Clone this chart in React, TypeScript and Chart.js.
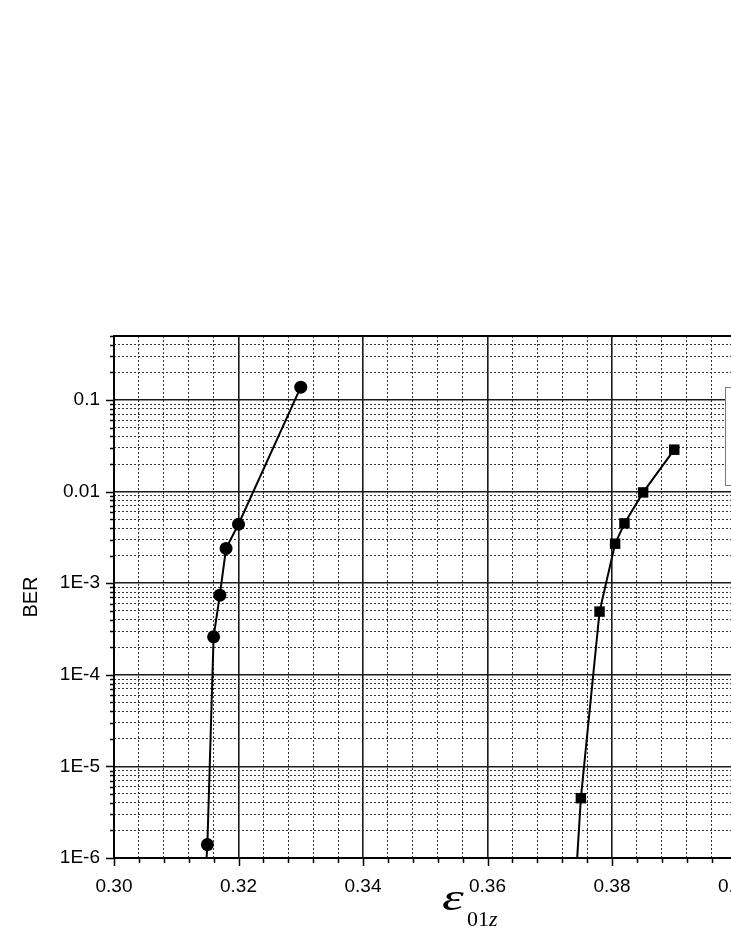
import React, { useEffect, useRef } from "react";
import { Chart, registerables } from "chart.js";

Chart.register(...registerables);

// ---- data ----
const circleX = [0.314, 0.315, 0.316, 0.317, 0.318, 0.32, 0.33];
const circleBER = [1e-7, 1.4e-6, 2.6e-4, 7.4e-4, 2.4e-3, 4.4e-3, 0.138];
const squareX = [0.3735, 0.375, 0.378, 0.3805, 0.382, 0.385, 0.39];
const squareBER = [1e-7, 4.5e-6, 4.9e-4, 2.7e-3, 4.5e-3, 9.8e-3, 0.0287];

// ---- axes ----
const xMin = 0.3;
const xMax = 0.42;
const xMinorStep = 0.004;
const xMajorStep = 0.02;
const yMin = 1e-6;
const yMax = 0.5;
const yDecades = [1e-6, 1e-5, 1e-4, 1e-3, 0.01, 0.1];
const yDecadeLabels = ["1E-6", "1E-5", "1E-4", "1E-3", "0.01", "0.1"];
const yMinorMultipliers = [2, 3, 4, 5, 6, 7, 8, 9];

const FONT = "'Liberation Sans', Arial, sans-serif";
const SERIF = "'Liberation Serif', 'Times New Roman', serif";

const isMajorX = (v: number) => {
  const r = v / xMajorStep;
  return Math.abs(r - Math.round(r)) < 1e-6;
};
const isMajorY = (v: number) => {
  const l = Math.log10(v);
  return Math.abs(l - Math.round(l)) < 1e-6;
};

const framePlugin = {
  id: "frameAndTitle",
  afterDraw(chart: any) {
    const { ctx, chartArea: a, scales } = chart;
    const xs = scales.x;
    const ys = scales.y;
    ctx.save();
    ctx.strokeStyle = "#000";
    ctx.lineWidth = 1.5;
    ctx.setLineDash([]);
    ctx.beginPath();
    xs.ticks.forEach((t: any) => {
      const px = Math.round(xs.getPixelForValue(t.value)) + 0.5;
      const len = isMajorX(t.value) ? 8 : 5;
      ctx.moveTo(px, a.bottom);
      ctx.lineTo(px, a.bottom + len);
    });
    ys.ticks.forEach((t: any) => {
      const py = Math.round(ys.getPixelForValue(t.value)) + 0.5;
      const len = isMajorY(t.value) ? 8 : 4;
      ctx.moveTo(a.left - len, py);
      ctx.lineTo(a.left, py);
    });
    ctx.stroke();

    // frame
    ctx.lineWidth = 2;
    ctx.strokeRect(a.left, a.top, a.right - a.left, a.bottom - a.top);

    // legend box (mostly outside the visible window)
    const lx = a.left + 611;
    const ly = a.top + 51;
    ctx.fillStyle = "#fff";
    ctx.fillRect(lx, ly, 160, 98);
    ctx.strokeStyle = "#777";
    ctx.lineWidth = 1;
    ctx.strokeRect(lx + 0.5, ly + 0.5, 160, 98);
    ctx.strokeStyle = "#000";
    ctx.fillStyle = "#000";
    ctx.lineWidth = 2;
    [0, 1].forEach((i) => {
      const yy = ly + 30 + i * 38;
      ctx.beginPath();
      ctx.moveTo(lx + 14, yy);
      ctx.lineTo(lx + 54, yy);
      ctx.stroke();
      ctx.beginPath();
      if (i === 0) {
        ctx.arc(lx + 34, yy, 6, 0, Math.PI * 2);
        ctx.fill();
      } else {
        ctx.fillRect(lx + 29, yy - 5, 10, 10);
      }
    });

    // x axis title: epsilon with subscript 01z
    ctx.fillStyle = "#000";
    ctx.textBaseline = "alphabetic";
    ctx.textAlign = "left";
    const tx = a.left + 328;
    const ty = a.bottom + 52;
    ctx.save();
    ctx.translate(tx, ty);
    ctx.scale(1.45, 1);
    ctx.font = `italic 38px ${SERIF}`;
    ctx.fillText("\u03b5", 0, 0);
    ctx.restore();
    const sx = tx + 25;
    const sy = ty + 16;
    ctx.font = `22px ${SERIF}`;
    ctx.fillText("01", sx, sy);
    const w01 = ctx.measureText("01").width;
    ctx.font = `italic 22px ${SERIF}`;
    ctx.fillText("z", sx + w01, sy);
    ctx.restore();
  },
};

export default function App() {
  const ref = useRef<HTMLCanvasElement | null>(null);

  useEffect(() => {
    if (!ref.current) return;
    const chart = new Chart(ref.current, {
      type: "line",
      data: {
        datasets: [
          {
            label: "circles",
            data: circleX.map((x, i) => ({ x, y: circleBER[i] })),
            borderColor: "#000",
            backgroundColor: "#000",
            borderWidth: 2,
            pointStyle: "circle",
            pointRadius: 6.5,
            pointBorderWidth: 0,
            tension: 0,
            clip: 0,
          },
          {
            label: "squares",
            data: squareX.map((x, i) => ({ x, y: squareBER[i] })),
            borderColor: "#000",
            backgroundColor: "#000",
            borderWidth: 2,
            pointStyle: "rect",
            pointRadius: 7.4,
            pointBorderWidth: 0,
            tension: 0,
            clip: 0,
          },
        ],
      },
      options: {
        responsive: false,
        animation: false,
        devicePixelRatio: 1,
        layout: { padding: { top: 328, right: 47, bottom: 0, left: 0 } },
        plugins: {
          legend: { display: false },
          tooltip: { enabled: false },
        },
        scales: {
          x: {
            type: "linear",
            min: xMin,
            max: xMax,
            afterBuildTicks: (scale: any) => {
              const n = Math.round((xMax - xMin) / xMinorStep);
              const t: any[] = [];
              for (let i = 0; i <= n; i++) t.push({ value: +(xMin + i * xMinorStep).toFixed(4) });
              scale.ticks = t;
            },
            afterFit: (scale: any) => {
              scale.height = 80;
            },
            ticks: {
              autoSkip: false,
              maxRotation: 0,
              color: "#000",
              padding: 17,
              font: { family: FONT, size: 19 },
              callback: (v: any) => (isMajorX(Number(v)) ? Number(v).toFixed(2) : ""),
            },
            grid: {
              drawTicks: false,
              color: (c: any) => (c.tick && isMajorX(c.tick.value) ? "#1a1a1a" : "#333"),
              lineWidth: (c: any) => (c.tick && isMajorX(c.tick.value) ? 1.6 : 1),
            },
            border: {
              display: false,
              dash: (c: any) => (c.tick && isMajorX(c.tick.value) ? [] : [2, 2]),
            },
          },
          y: {
            type: "logarithmic",
            min: yMin,
            max: yMax,
            afterBuildTicks: (scale: any) => {
              const t: any[] = [];
              yDecades.forEach((d) => {
                t.push({ value: d });
                yMinorMultipliers.forEach((m) => {
                  const v = +(d * m).toPrecision(6);
                  if (v <= yMax + 1e-12) t.push({ value: v });
                });
              });
              scale.ticks = t;
            },
            afterFit: (scale: any) => {
              scale.width = 106;
            },
            ticks: {
              autoSkip: false,
              color: "#000",
              padding: 14,
              font: { family: FONT, size: 19 },
              callback: (v: any) => {
                const idx = yDecades.findIndex((d) => Math.abs(d - Number(v)) / d < 1e-6);
                return idx >= 0 ? yDecadeLabels[idx] : "";
              },
            },
            grid: {
              drawTicks: false,
              color: (c: any) => (c.tick && isMajorY(c.tick.value) ? "#1a1a1a" : "#333"),
              lineWidth: (c: any) => (c.tick && isMajorY(c.tick.value) ? 1.6 : 1),
            },
            border: {
              display: false,
              dash: (c: any) => (c.tick && isMajorY(c.tick.value) ? [] : [2, 2]),
            },
            title: {
              display: true,
              text: "BER",
              color: "#000",
              font: { family: FONT, size: 20 },
              padding: { top: 11, bottom: 0 },
            },
          },
        },
      },
      plugins: [framePlugin],
    } as any);
    return () => chart.destroy();
  }, []);

  return (
    <div
      style={{
        position: "fixed",
        left: 0,
        top: 0,
        width: 731,
        height: 946,
        overflow: "hidden",
        background: "#fff",
      }}
    >
      <canvas
        ref={ref}
        width={900}
        height={930}
        style={{ display: "block", position: "absolute", left: 8, top: 8 }}
      />
    </div>
  );
}
